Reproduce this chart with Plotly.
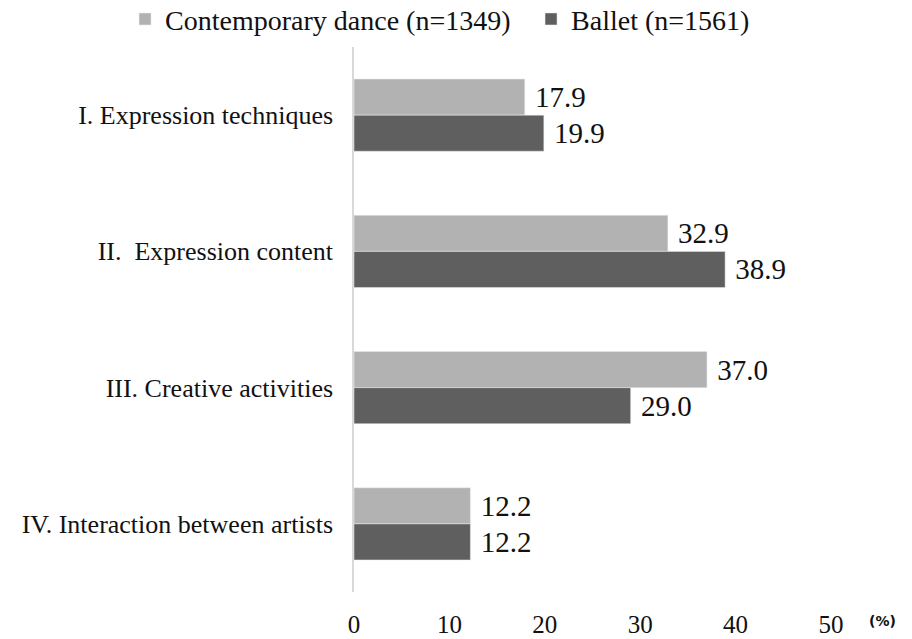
import plotly.graph_objects as go

categories = ["I. Expression techniques", "II.\u00a0 Expression content", "III. Creative activities", "IV. Interaction between artists"]
contemporary = [17.9, 32.9, 37.0, 12.2]
ballet = [19.9, 38.9, 29.0, 12.2]
series_names = ["Contemporary dance (n=1349)", "Ballet (n=1561)"]
x_ticks = [0, 10, 20, 30, 40, 50]

FONT = "Liberation Serif"

fig = go.Figure()
fig.add_trace(go.Bar(
    y=categories, x=contemporary, orientation="h", name=series_names[0],
    marker=dict(color="#b2b2b2"),
    text=[f"\u00a0{v:.1f}" for v in contemporary], textposition="outside",
    textfont=dict(family=FONT, size=29, color="#111111"), cliponaxis=False,
))
fig.add_trace(go.Bar(
    y=categories, x=ballet, orientation="h", name=series_names[1],
    marker=dict(color="#5f5f5f"),
    text=[f"\u00a0{v:.1f}" for v in ballet], textposition="outside",
    textfont=dict(family=FONT, size=29, color="#111111"), cliponaxis=False,
))

fig.update_layout(
    width=912, height=639,
    margin=dict(l=354, r=81, t=47, b=47, autoexpand=False),
    paper_bgcolor="white", plot_bgcolor="white",
    barmode="group", bargap=0.47, bargroupgap=0,
    font=dict(family=FONT, size=26, color="#111111"),
    showlegend=True,
    legend=dict(orientation="h", xref="paper", yref="paper",
                x=-0.48, xanchor="left", y=1.005, yanchor="bottom",
                font=dict(family=FONT, size=28, color="#111111"),
                itemwidth=30, traceorder="normal",
                entrywidth=361, entrywidthmode="pixels"),
    xaxis=dict(range=[0, 50], tickvals=x_ticks, showgrid=False, zeroline=False,
               showline=False, ticks="", ticklabelstandoff=15,
               tickfont=dict(family=FONT, size=25, color="#111111")),
    yaxis=dict(categoryorder="array", categoryarray=categories, autorange="reversed",
               showgrid=False, zeroline=False, showline=True, linecolor="#d9d9d9",
               linewidth=1.5, ticks="", ticklabelstandoff=14,
               tickfont=dict(family=FONT, size=26, color="#111111")),
    annotations=[dict(text="<b>(%)</b>", xref="paper", yref="paper", x=1.0, xanchor="left",
                      y=-0.035, yanchor="top", showarrow=False, xshift=36,
                      font=dict(family="DejaVu Sans", size=14, color="#111111"))],
)

fig.write_html("out.html", config={"displayModeBar": False},
               post_script="document.body.style.margin='0';")
